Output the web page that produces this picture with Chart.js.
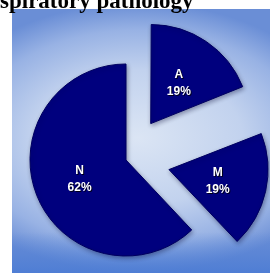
<!DOCTYPE html>
<html>
<head>
<meta charset="utf-8">
<script src="https://cdn.jsdelivr.net/npm/chart.js@4"></script>
<style>
	html, body { margin: 0; padding: 0; background: #fff; overflow: hidden; }
	#wrap { position: relative; width: 270px; height: 273px; }
</style>
</head>
<body>
<div id="wrap"><canvas id="pie" width="270" height="273"></canvas></div>
<script>
( function () {
	'use strict';

	var titleText  = 'Respiratory pathology';
	var categories = [ 'A', 'M', 'N' ];
	var percents   = [ 19, 19, 62 ];

	// Chart.js moves an exploded arc by offset / 4 px
	var EXPLODE = 176;

	// ── Panel background: soft blue glow ─────────────────────────────────
	var panelBg = {
		id : 'panelBg',
		beforeDraw : function ( chart ) {
			var ctx = chart.ctx;
			ctx.save();
			ctx.fillStyle = '#ffffff';
			ctx.fillRect( 0, 0, chart.width, chart.height );
			ctx.beginPath();
			ctx.rect( 12, 9, chart.width - 12, chart.height - 9 );
			ctx.clip();

			ctx.save();
			ctx.translate( 138, 138 );
			ctx.scale( 1.55, 1 );
			var g = ctx.createRadialGradient( 0, 0, 0, 0, 0, 135 );
			g.addColorStop( 0, '#dbe5f4' );
			g.addColorStop( 0.5, '#c2d2ee' );
			g.addColorStop( 0.8, '#98b2e4' );
			g.addColorStop( 1, '#6a8ed6' );
			ctx.fillStyle = g;
			ctx.fillRect( -150, -150, 300, 300 );
			ctx.restore();

			// darker band along the bottom
			var b = ctx.createLinearGradient( 0, 232, 0, 273 );
			b.addColorStop( 0, 'rgba(76,124,212,0)' );
			b.addColorStop( 1, 'rgba(76,124,212,0.9)' );
			ctx.fillStyle = b;
			ctx.fillRect( 12, 232, chart.width - 12, 41 );
			ctx.restore();
		},
		beforeDatasetsDraw : function ( chart ) {
			var ctx = chart.ctx;
			ctx.save();
			ctx.shadowColor   = 'rgba(0,0,50,0.35)';
			ctx.shadowBlur    = 4;
			ctx.shadowOffsetX = 1;
			ctx.shadowOffsetY = 2;
		},
		afterDatasetsDraw : function ( chart ) {
			chart.ctx.restore();
		},
	};

	// ── Slice labels + clipped title ─────────────────────────────────────
	var sliceLabels = {
		id : 'sliceLabels',
		afterDraw : function ( chart ) {
			var ctx  = chart.ctx;
			var meta = chart.getDatasetMeta( 0 );
			ctx.save();
			ctx.font         = 'bold 12px "Liberation Sans", Arial, sans-serif';
			ctx.textAlign    = 'center';
			ctx.textBaseline = 'middle';
			ctx.fillStyle    = '#ffffff';
			ctx.shadowColor  = 'rgba(0,0,0,0.8)';
			ctx.shadowOffsetX = 1;
			ctx.shadowOffsetY = 1;
			meta.data.forEach( function ( arc, i ) {
				var p   = arc.getProps( [ 'x', 'y', 'startAngle', 'endAngle', 'outerRadius' ], true );
				var mid = ( p.startAngle + p.endAngle ) / 2;
				var r   = p.outerRadius * 0.52 + ( arc.options.offset || 0 ) / 4;
				var cx  = p.x + Math.cos( mid ) * r;
				var cy  = p.y + Math.sin( mid ) * r;
				ctx.fillText( categories[ i ], cx, cy - 8 );
				ctx.fillText( percents[ i ] + '%', cx, cy + 9 );
			} );
			ctx.restore();

			ctx.save();
			ctx.font         = 'bold 23px "Liberation Serif", "Times New Roman", serif';
			ctx.textBaseline = 'alphabetic';
			ctx.textAlign    = 'left';
			ctx.fillStyle    = '#000000';
			var skip = ctx.measureText( 'Re' ).width;
			ctx.fillText( titleText, -skip, 8 );
			ctx.restore();
		},
	};

	new Chart( document.getElementById( 'pie' ), {
		type : 'pie',
		data : {
			labels   : categories,
			datasets : [ {
				data            : percents,
				backgroundColor : '#00007e',
				borderColor     : '#000060',
				borderWidth     : 1,
				offset          : [ EXPLODE, EXPLODE, 0 ],
				hoverOffset     : 0,
			} ],
		},
		options : {
			responsive          : false,
			maintainAspectRatio : false,
			animation           : false,
			radius              : 96,
			layout  : { padding : { left : 0, right : 18, top : 47, bottom : 0 } },
			events  : [],
			plugins : {
				legend  : { display : false },
				tooltip : { enabled : false },
				title   : { display : false },
			},
		},
		plugins : [ panelBg, sliceLabels ],
	} );
} )();
</script>
</body>
</html>
